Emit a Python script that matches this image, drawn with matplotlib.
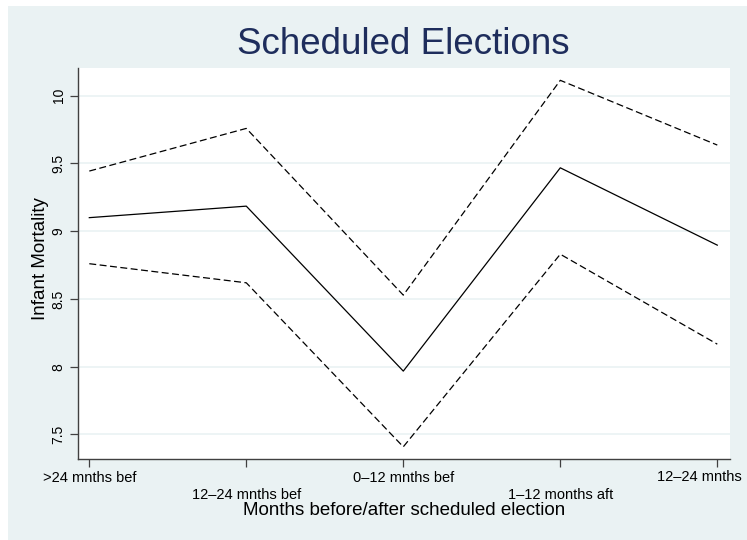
import matplotlib.pyplot as plt
import matplotlib.patches as mpatches

plt.rcParams['font.family'] = ['Liberation Sans', 'DejaVu Sans']
plt.rcParams['lines.scale_dashes'] = False

periods = ['>24 mnths bef', '12–24 mnths bef', '0–12 mnths bef',
           '1–12 months aft', '12–24 mnths']
estimate = [9.10, 9.185, 7.967, 9.468, 8.897]
upper_ci = [9.444, 9.759, 8.528, 10.114, 9.636]
lower_ci = [8.76, 8.619, 7.408, 8.83, 8.166]
yticks = [7.5, 8, 8.5, 9, 9.5, 10]

bg = '#eaf2f3'
x = list(range(1, len(periods) + 1))

fig = plt.figure(figsize=(7.47, 5.40), dpi=100, facecolor='white')
# graph region (light bluish gray) with a thin white outer margin at top/left
fig.patches.append(mpatches.Rectangle((8 / 747, 0), 1 - 8 / 747, 1 - 6 / 540,
                                      transform=fig.transFigure,
                                      facecolor=bg, edgecolor='none', zorder=-10))

ax = fig.add_axes([78 / 747, 1 - 459 / 540, (730 - 78) / 747, (459 - 68) / 540])
ax.set_facecolor('white')

ax.plot(x, estimate, color='black', lw=0.9)
ax.plot(x, upper_ci, color='black', lw=0.9, dashes=(5, 2.5))
ax.plot(x, lower_ci, color='black', lw=0.9, dashes=(5, 2.5))

ax.set_xlim(0.928, 5.081)
ax.set_ylim(7.318, 10.205)

ax.set_yticks(yticks)
ax.set_yticklabels(['7.5', '8', '8.5', '9', '9.5', '10'], rotation=90,
                   va='center', fontsize=10)

# alternate tick labels between two rows; the last one is nudged left
# so it stays inside the graph region
ax.set_xticks(x)
labels = [lab if i % 2 == 0 else '\n' + lab for i, lab in enumerate(periods)]
labels[-1] = ''
ax.set_xticklabels(labels, fontsize=10.5)
ax.annotate(periods[-1], xy=(x[-1], 0), xycoords=('data', 'axes fraction'),
            xytext=(-13, -12.7), textcoords='offset points',
            ha='center', va='center', fontsize=10.5)

ax.grid(axis='y', color=bg, lw=1.2)
ax.set_axisbelow(True)
for side in ['top', 'right']:
    ax.spines[side].set_visible(False)
for side in ['left', 'bottom']:
    ax.spines[side].set_color('#404040')
    ax.spines[side].set_linewidth(1.0)
ax.tick_params(direction='out', length=6, width=0.9, color='#404040', pad=3)

ax.set_xlabel('Months before/after scheduled election', fontsize=13.5, labelpad=0)
ax.set_ylabel('Infant Mortality', fontsize=13.5, labelpad=2)
ax.yaxis.label.set_y(0.512)

fig.text(403 / 747, 1 - 44 / 540, 'Scheduled Elections', fontsize=26.5,
         color='#1e2d5c', ha='center', va='center')

fig.savefig('out.png', dpi=100, facecolor=fig.get_facecolor())
